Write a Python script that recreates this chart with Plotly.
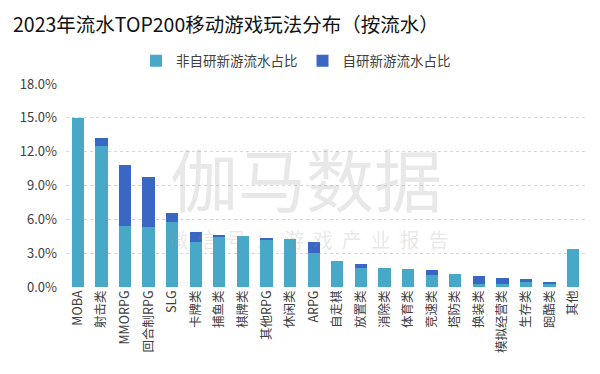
import plotly.graph_objects as go

categories = ["MOBA", "射击类", "MMORPG", "回合制RPG", "SLG", "卡牌类", "捕鱼类", "棋牌类",
              "其他RPG", "休闲类", "ARPG", "自走棋", "放置类", "消除类", "体育类", "竞速类",
              "塔防类", "换装类", "模拟经营类", "生存类", "跑酷类", "其他"]
non_self = [15.0, 12.5, 5.4, 5.3, 5.75, 4.0, 4.45, 4.55, 4.2, 4.3, 3.0, 2.3, 1.7, 1.72, 1.63,
            1.05, 1.12, 0.3, 0.28, 0.4, 0.3, 3.4]
self_dev = [0.0, 0.7, 5.45, 4.45, 0.8, 0.85, 0.12, 0.0, 0.15, 0.0, 1.0, 0.0, 0.3, 0.0, 0.0,
            0.5, 0.0, 0.65, 0.55, 0.3, 0.14, 0.0]
y_ticks = [0, 3, 6, 9, 12, 15, 18]
y_tick_labels = ["0.0%", "3.0%", "6.0%", "9.0%", "12.0%", "15.0%", "18.0%"]

FONT = "Noto Sans CJK SC, Noto Sans, sans-serif"

# the page body adds an 8px offset, so the figure is 592x366
W, H = 592, 366
PL, PR, PT, PB = 58, 577, 76, 279

fig = go.Figure()
fig.add_trace(go.Bar(x=categories, y=non_self, name="非自研新游流水占比",
                     marker=dict(color="#47A9C7", line=dict(width=0))))
fig.add_trace(go.Bar(x=categories, y=self_dev, name="自研新游流水占比",
                     marker=dict(color="#3A66C4", line=dict(width=0))))

fig.update_layout(
    barmode="stack",
    bargap=0.48,
    width=W, height=H,
    margin=dict(l=PL, r=W - PR, t=PT, b=H - PB, autoexpand=False),
    paper_bgcolor="white", plot_bgcolor="white",
    font=dict(family=FONT, color="#404040"),
    title=dict(text="2023年流水TOP200移动游戏玩法分布（按流水）", x=5 / W, xanchor="left",
               xref="container", y=1 - 17 / H, yanchor="middle", yref="container",
               font=dict(size=19.5, color="#111111", family=FONT)),
    legend=dict(orientation="h", xref="container", yref="container",
                x=128 / W, xanchor="left", y=1 - 53 / H, yanchor="middle",
                font=dict(size=13.5, color="#404040"), itemwidth=30, traceorder="normal",
                bgcolor="rgba(0,0,0,0)"),
    showlegend=True,
)
fig.update_xaxes(tickangle=-90, tickfont=dict(size=12.5, color="#404040"), showline=False,
                 showgrid=False, ticks="", automargin=False)
fig.update_yaxes(range=[0, 18], tickvals=y_ticks, ticktext=y_tick_labels,
                 tickfont=dict(size=13, color="#404040"), showgrid=True, gridcolor="#D6D6D6",
                 griddash="dot", gridwidth=1, zeroline=False, showline=False, ticks="",
                 ticklabelstandoff=8, automargin=False)

pw, ph = PR - PL, PB - PT
fig.add_annotation(text="伽马数据", xref="paper", yref="paper", x=(298 - PL) / pw,
                   y=(PB - 169) / ph, xanchor="center", yanchor="middle", showarrow=False,
                   font=dict(size=68, color="rgba(150,150,150,0.22)", family=FONT))
fig.add_annotation(text="\u00a0\u00a0".join("微信号：游戏产业报告"), xref="paper", yref="paper",
                   x=(300 - PL) / pw, y=(PB - 231) / ph, xanchor="center", yanchor="middle",
                   showarrow=False,
                   font=dict(size=20, color="rgba(150,150,150,0.22)", family=FONT))

fig.write_html("out.html")
